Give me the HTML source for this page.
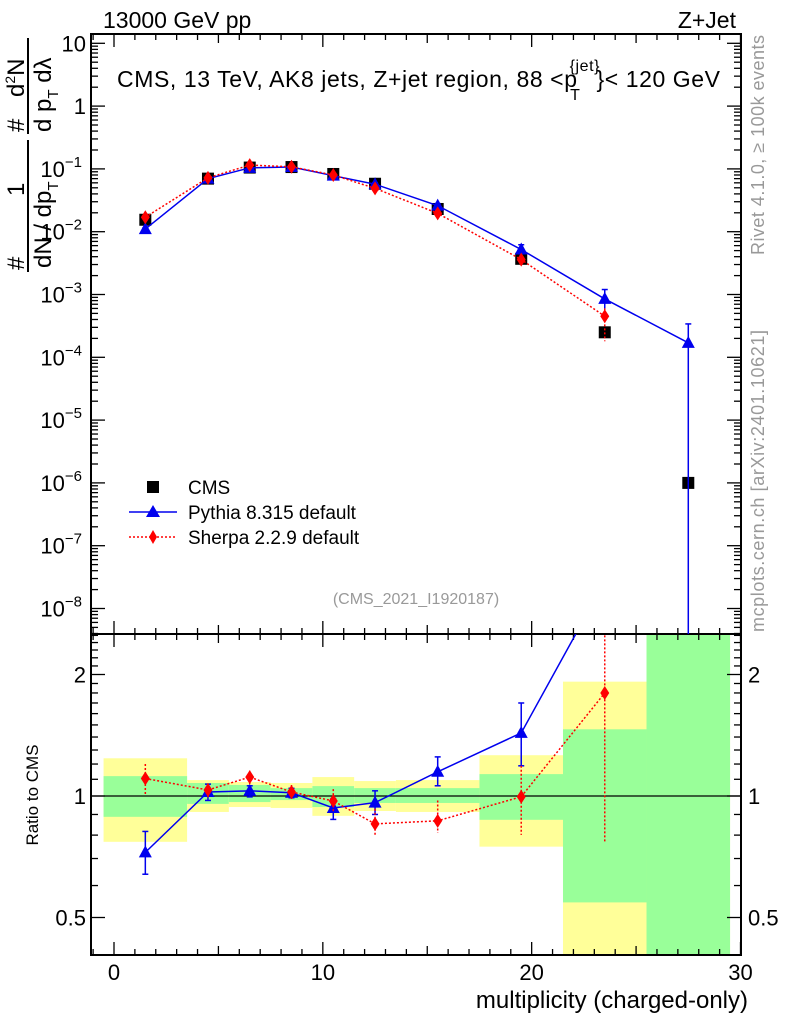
<!DOCTYPE html>
<html><head><meta charset="utf-8"><style>
html,body{margin:0;padding:0;background:#fff;}
svg{display:block;font-family:"Liberation Sans",sans-serif;}
</style></head><body>
<svg id="chart" width="786" height="1024" viewBox="0 0 786 1024" xmlns="http://www.w3.org/2000/svg">
<rect x="0" y="0" width="786" height="1024" fill="#fff"/>
<g id="bands"></g>
<g id="axes"></g>
<g id="marks"></g>
<g id="labels">
<text x="103" y="28" font-size="23">13000 GeV pp</text>
<text x="736" y="28" font-size="23" text-anchor="end">Z+Jet</text>
<text x="117" y="87" font-size="23" textLength="603">CMS, 13 TeV, AK8 jets, Z+jet region, 88 &lt;p<tspan font-size="16" dx="-8" dy="-16">{jet}</tspan><tspan font-size="16" dx="-30" dy="29">T</tspan><tspan dx="16" dy="-13">}&lt; 120 GeV</tspan></text>
<text x="416" y="604" font-size="16" fill="#999" text-anchor="middle">(CMS_2021_I1920187)</text>
<text x="748" y="1008" font-size="24" text-anchor="end">multiplicity (charged-only)</text>
<text transform="translate(38,795) rotate(-90)" font-size="17" text-anchor="middle">Ratio to CMS</text>
<text transform="translate(764,255) rotate(-90)" font-size="18" fill="#999" textLength="220">Rivet 4.1.0, ≥ 100k events</text>
<text transform="translate(764,632) rotate(-90)" font-size="18" fill="#999" textLength="302">mcplots.cern.ch [arXiv:2401.10621]</text>
<g font-size="24">
<text transform="translate(24,270) rotate(-90)">#</text>
<text transform="translate(24,196) rotate(-90)">1</text>
<text transform="translate(24,132) rotate(-90)">#</text>
<text transform="translate(24,97) rotate(-90)">d<tspan font-size="14" dy="-9">2</tspan><tspan dy="9">N</tspan></text>
<line x1="28" y1="272" x2="28" y2="140" stroke="#000" stroke-width="2"/>
<line x1="28" y1="134" x2="28" y2="38" stroke="#000" stroke-width="2"/>
<text transform="translate(51,268) rotate(-90)">dN / dp<tspan font-size="15" dy="7">T</tspan></text>
<text transform="translate(51,132) rotate(-90)">d p<tspan font-size="15" dy="7">T</tspan><tspan dy="-7">  dλ</tspan></text>
</g>
<g font-size="19">
<rect x="147" y="481" width="12" height="12" fill="#000"/>
<text x="188" y="494">CMS</text>
<line x1="129" y1="512" x2="177" y2="512" stroke="#0000ee" stroke-width="1.5"/>
<polygon points="153,505 160,517 146,517" fill="#0000ee"/>
<text x="188" y="519">Pythia 8.315 default</text>
<line x1="129" y1="537" x2="177" y2="537" stroke="red" stroke-width="1.5" stroke-dasharray="2,2"/>
<polygon points="153,530 157,537 153,544 149,537" fill="red"/>
<text x="188" y="544">Sherpa 2.2.9 default</text>
</g>
</g>
</svg>
<script>
// ---- data ----
const binEdges = [-0.5,3.5,5.5,7.5,9.5,11.5,13.5,17.5,21.5,25.5,29.5];
const xPoints = [1.5,4.5,6.5,8.5,10.5,12.5,15.5,19.5,23.5,27.5];
const cmsValues = [0.0155,0.070,0.105,0.107,0.083,0.058,0.023,0.0037,0.00025,1.0e-6];
const pythiaValues = [0.011,0.070,0.104,0.107,0.078,0.057,0.026,0.0052,0.00085,0.00017];
const pythiaErrUp = [0.0115,0.073,0.108,0.110,0.081,0.060,0.028,0.0062,0.0012,0.00034];
const pythiaErrDown = [0.0105,0.067,0.100,0.104,0.075,0.054,0.024,0.0044,0.0006,1e-9];
const sherpaValues = [0.017,0.072,0.115,0.108,0.080,0.049,0.0196,0.0036,0.00045];
const sherpaErrUp = [0.018,0.075,0.120,0.111,0.083,0.052,0.021,0.0042,0.0006];
const sherpaErrDown = [0.016,0.069,0.110,0.105,0.077,0.046,0.018,0.0031,0.00018];
const yellowHi = [1.24,1.095,1.083,1.077,1.114,1.089,1.095,1.262,1.92,5];
const yellowLo = [0.77,0.913,0.939,0.934,0.893,0.918,0.913,0.749,0.3,0.1];
const greenHi = [1.12,1.077,1.065,1.046,1.058,1.046,1.046,1.133,1.463,5];
const greenLo = [0.888,0.956,0.966,0.977,0.939,0.961,0.961,0.873,0.545,0.1];
const pythiaRatio = [0.725,1.023,1.03,1.019,0.934,0.963,1.148,1.433,3.4];
const pythiaRatioUp = [0.817,1.07,1.06,1.045,0.985,1.03,1.25,1.70,3.4];
const pythiaRatioDown = [0.64,0.975,0.995,0.99,0.875,0.90,1.06,1.188,3.4];
const sherpaRatio = [1.105,1.035,1.114,1.023,0.972,0.853,0.868,0.996,1.80];
const sherpaRatioUp = [1.20,1.075,1.155,1.065,1.04,0.93,0.975,1.188,3.0];
const sherpaRatioDown = [1.00,0.985,1.07,0.975,0.91,0.80,0.81,0.801,0.766];
const xTickLabels = ['0','10','20','30'];
const mainTickExps = [1,0,-1,-2,-3,-4,-5,-6,-7,-8];
const ratioTickLabels = ['0.5','1','2'];

// ---- axes ----
const L=91, R=741, T=34, MB=634, RB=955;
const X0=114, XS=(740.5-114)/30;
function xs(v){return X0+XS*v;}
function ym(v){return 43.3-62.8*(Math.log10(v)-1);}
function yr(r){return 796-121.5*Math.log2(r);}
const NS='http://www.w3.org/2000/svg';
function mk(parent,tag,attrs){const e=document.createElementNS(NS,tag);for(const k in attrs)e.setAttribute(k,attrs[k]);parent.appendChild(e);return e;}
const gB=document.getElementById('bands'), gA=document.getElementById('axes'), gM=document.getElementById('marks');
function clampR(y){return Math.max(MB,Math.min(RB,y));}
function clampM(y){return Math.max(T,Math.min(MB,y));}

for(let i=0;i<binEdges.length-1;i++){
  const x1=xs(binEdges[i]), x2=xs(binEdges[i+1]);
  const ry=mk(gB,'rect',{x:x1,y:clampR(yr(yellowHi[i])),width:x2-x1,height:clampR(yr(yellowLo[i]))-clampR(yr(yellowHi[i])),fill:'#ffff99'});
  
  
  const rg=mk(gB,'rect',{x:x1,y:clampR(yr(greenHi[i])),width:x2-x1,height:clampR(yr(greenLo[i]))-clampR(yr(greenHi[i])),fill:'#99ff99'});
  
  
}
const ul=mk(gA,'line',{x1:L,y1:yr(1),x2:R,y2:yr(1),stroke:'#000','stroke-width':1.2});


const f1=mk(gA,'rect',{x:L,y:T,width:R-L,height:MB-T,fill:'none',stroke:'#000','stroke-width':2});


const f2=mk(gA,'rect',{x:L,y:MB,width:R-L,height:RB-MB,fill:'none',stroke:'#000','stroke-width':2});


for(let v=-1;v<=30;v++){
  const len=(v%10===0)?13:(v%5===0?9:6);
  const x=xs(v); if(x<L||x>R) continue;
  [[T,1],[MB,-1],[MB,1],[RB,-1]].forEach(([y0,d])=>{mk(gA,'line',{x1:x,y1:y0,x2:x,y2:y0+d*len,stroke:'#000','stroke-width':1.3});});
}
xTickLabels.forEach((t,i)=>{
  const tx=mk(gA,'text',{x:xs(i*10),y:980,'font-size':22,'text-anchor':'middle'});tx.textContent=t;
  
  
});
for(let e=-9;e<=1;e++){for(let m=1;m<=9;m++){
  const v=m*Math.pow(10,e); const y=ym(v); if(y<T||y>MB) continue;
  const len=m===1?14:7;
  mk(gA,'line',{x1:L,y1:y,x2:L+len,y2:y,stroke:'#000','stroke-width':1.3});
  mk(gA,'line',{x1:R,y1:y,x2:R-len,y2:y,stroke:'#000','stroke-width':1.3});
}}
mainTickExps.forEach(e=>{
  const y=ym(Math.pow(10,e));
  const t=mk(gA,'text',{x:86,y:y+8,'font-size':22,'text-anchor':'end'});
  
  
  if(e===1) t.textContent='10'; else if(e===0) t.textContent='1';
  else {t.innerHTML='10<tspan font-size="15" dy="-10">'+(e<0?'\u2212':'')+Math.abs(e)+'</tspan>';t.setAttribute('x',82);}
});
for(let r=0.4;r<=2.55;r+=0.1){
  const rr=Math.round(r*10)/10; const y=yr(rr); if(y<MB||y>RB) continue;
  const big=(rr===0.5||rr===1||rr===2); const len=big?14:7;
  mk(gA,'line',{x1:L,y1:y,x2:L+len,y2:y,stroke:'#000','stroke-width':1.3});
  mk(gA,'line',{x1:R,y1:y,x2:R-len,y2:y,stroke:'#000','stroke-width':1.3});
}
ratioTickLabels.forEach(t=>{
  const y=yr(parseFloat(t));
  const a=mk(gA,'text',{x:86,y:y+8,'font-size':22,'text-anchor':'end'});a.textContent=t;
  
  
  const b=mk(gA,'text',{x:748,y:y+8,'font-size':22});b.textContent=t;
  
  
});

function tri(g,x,y,c){return mk(g,'polygon',{points:`${x},${y-7} ${x+6.5},${y+5} ${x-6.5},${y+5}`,fill:c});}
function dia(g,x,y,c){return mk(g,'polygon',{points:`${x},${y-7} ${x+4.5},${y} ${x},${y+7} ${x-4.5},${y}`,fill:c});}
function polyline(g,pts,c,dash,name){const p=mk(g,'polyline',{points:pts.map(q=>q.join(',')).join(' '),fill:'none',stroke:c,'stroke-width':1.5});if(dash)p.setAttribute('stroke-dasharray','2,2');return p;}

const gMain=mk(gM,'g',{});
const gClipR=mk(gM,'g',{});
const defs=mk(document.getElementById('chart'),'defs',{});
const cp=mk(defs,'clipPath',{id:'rclip'});mk(cp,'rect',{x:L,y:MB,width:R-L,height:RB-MB});
const cp2=mk(defs,'clipPath',{id:'mclip'});mk(cp2,'rect',{x:L,y:T,width:R-L,height:MB-T});
gClipR.setAttribute('clip-path','url(#rclip)');
gMain.setAttribute('clip-path','url(#mclip)');

cmsValues.forEach((v,i)=>{
  const r=mk(gMain,'rect',{x:xs(xPoints[i])-6,y:ym(v)-6,width:12,height:12,fill:'#000'});
  
  
});
polyline(gMain,pythiaValues.map((v,i)=>[xs(xPoints[i]),ym(v)]),'#0000ee',false,'pythia-line');
pythiaValues.forEach((v,i)=>{
  const x=xs(xPoints[i]);
  const e=mk(gMain,'line',{x1:x,y1:ym(pythiaErrUp[i]),x2:x,y2:clampM(ym(pythiaErrDown[i])),stroke:'#0000ee','stroke-width':1.5});
  
  
  mk(gMain,'line',{x1:x-3,y1:ym(pythiaErrUp[i]),x2:x+3,y2:ym(pythiaErrUp[i]),stroke:'#0000ee','stroke-width':1.5});
  const t=tri(gMain,x,ym(v),'#0000ee');
  
  
});
polyline(gMain,sherpaValues.map((v,i)=>[xs(xPoints[i]),ym(v)]),'red',true,'sherpa-line');
sherpaValues.forEach((v,i)=>{
  const x=xs(xPoints[i]);
  const e=mk(gMain,'line',{x1:x,y1:ym(sherpaErrUp[i]),x2:x,y2:ym(sherpaErrDown[i]),stroke:'red','stroke-width':1.5,'stroke-dasharray':'2,2'});
  
  
  const d=dia(gMain,x,ym(v),'red');
  
  
});

polyline(gClipR,pythiaRatio.map((v,i)=>[xs(xPoints[i]),yr(v)]),'#0000ee',false,'pythia-ratio-line');
pythiaRatio.forEach((v,i)=>{
  const x=xs(xPoints[i]);
  const e=mk(gClipR,'line',{x1:x,y1:yr(pythiaRatioUp[i]),x2:x,y2:yr(pythiaRatioDown[i]),stroke:'#0000ee','stroke-width':1.5});
  
  
  mk(gClipR,'line',{x1:x-3,y1:yr(pythiaRatioUp[i]),x2:x+3,y2:yr(pythiaRatioUp[i]),stroke:'#0000ee','stroke-width':1.5});
  mk(gClipR,'line',{x1:x-3,y1:yr(pythiaRatioDown[i]),x2:x+3,y2:yr(pythiaRatioDown[i]),stroke:'#0000ee','stroke-width':1.5});
  const t=tri(gClipR,x,yr(v),'#0000ee');
  
  
});
polyline(gClipR,sherpaRatio.map((v,i)=>[xs(xPoints[i]),yr(v)]),'red',true,'sherpa-ratio-line');
sherpaRatio.forEach((v,i)=>{
  const x=xs(xPoints[i]);
  const e=mk(gClipR,'line',{x1:x,y1:yr(sherpaRatioUp[i]),x2:x,y2:yr(sherpaRatioDown[i]),stroke:'red','stroke-width':1.5,'stroke-dasharray':'2,2'});
  
  
  const d=dia(gClipR,x,yr(v),'red');
  
  
});
</script>
</body></html>
